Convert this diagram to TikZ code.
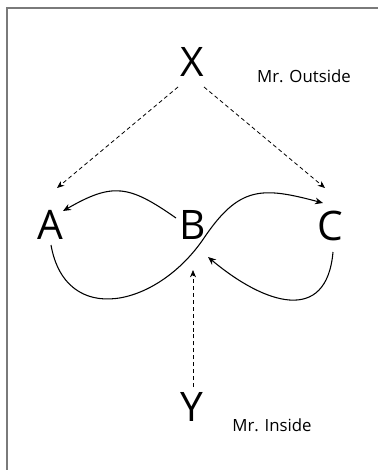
\documentclass[tikz,border=0pt]{standalone}
\usepackage{fontspec}
\setmainfont{Open Sans}
\usetikzlibrary{arrows.meta,positioning,calc}
\definecolor{ioFrame}{HTML}{7A7A7A}
\tikzset{
  letter/.style={inner sep=0pt, font=\fontsize{30.5}{32}\selectfont},
  tag/.style={inner sep=0pt, anchor=base, font=\fontsize{12.6}{14}\selectfont},
  hint/.style={-{Stealth[length=5.5pt, width=4.5pt]}, line width=0.6pt, dash pattern=on 3pt off 2.2pt},
  swing/.style={-{Stealth[length=6pt, width=5pt]}, line width=0.8pt},
  edgeline/.style={draw=ioFrame, line width=1.1pt}
}

\begin{document}
\begin{tikzpicture}[x=0.75pt, y=0.75pt]
  \useasboundingbox (0,0) rectangle (378,-470);
  \draw[edgeline] (7,-470) |- (378,-8);
  % the five letters
  \node[letter] (nx) at (192,-62) {X};
  \node[letter] (na) at (50,-225) {A};
  \node[letter] (nb) at (193,-225) {B};
  \node[letter] (nc) at (330,-226) {C};
  \node[letter] (ny) at (192,-407) {Y};
  \node[tag] (outlbl) at (304,-83) {Mr. Outside};
  \node[tag] (inlbl) at (272,-431) {Mr. Inside};
  % dashed hints
  \draw[hint] ([shift={(-14,-25)}]nx.center) -- ([shift={(7,37)}]na.center);
  \draw[hint] ([shift={(12,-25)}]nx.center) -- ([shift={(-5,38)}]nc.center);
  \draw[hint] ([shift={(1,20)}]ny.center) -- ([shift={(0,-45)}]nb.center);
  % solid swings
  \draw[swing] ([shift={(-17,7)}]nb.center) to[out=145, in=30, looseness=1.3] ([shift={(13,14)}]na.center);
  \draw[swing] ([shift={(1,-20)}]na.center) to[out=-80, in=-124, looseness=1.4] ([shift={(11,-13)}]nb.center)
    to[out=56, in=165, looseness=1.3] ([shift={(-7,23)}]nc.center);
  \draw[swing] ([shift={(3,-26)}]nc.center) to[out=-95, in=-40, looseness=1.5] ([shift={(15,-32)}]nb.center);
\end{tikzpicture}
\end{document}
